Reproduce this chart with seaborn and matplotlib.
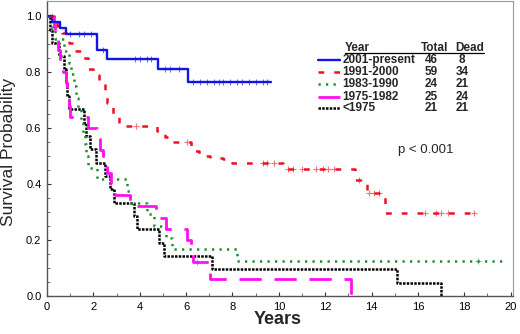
import numpy as np
import pandas as pd
import matplotlib
matplotlib.use("Agg")
import matplotlib.pyplot as plt
import seaborn as sns

# ---------------- data ----------------
groups = ["2001-present", "1991-2000", "1983-1990", "1975-1982", "<1975"]
totals = [46, 59, 24, 25, 21]
deaths = [8, 34, 21, 24, 21]

t_2001 = [0, 0.2, 0.55, 0.8, 2.16, 2.6, 4.78, 6.1, 9.65]
s_2001 = [1.0, 0.978, 0.957, 0.935, 0.879, 0.846, 0.81, 0.764, 0.764]
c_2001 = [1.0, 1.4, 1.6, 1.9, 2.4, 3.8, 4.0, 4.3, 4.5, 5.1, 5.3, 5.7,
          6.3, 6.6, 6.9, 7.2, 7.4, 7.6, 7.9, 8.2, 8.4, 8.7, 9.0, 9.3, 9.5]

t_1991 = [0, 0.25, 0.45, 0.65, 0.95, 1.25, 1.5, 1.78, 2.0, 2.25, 2.5, 2.6,
          2.85, 3.1, 4.73, 5.1, 5.45, 6.2, 6.55, 7.05, 7.6, 8.0, 10.2, 13.3,
          13.6, 13.8, 14.6, 18.5]
s_1991 = [1.0, 0.983, 0.966, 0.94, 0.905, 0.875, 0.85, 0.81, 0.79, 0.765,
          0.736, 0.69, 0.64, 0.607, 0.59, 0.569, 0.551, 0.519, 0.50, 0.494,
          0.489, 0.476, 0.452, 0.414, 0.405, 0.367, 0.295, 0.295]
c_1991 = [0.2, 3.85, 6.05, 9.3, 9.5, 9.8, 10.4, 10.6, 11.0, 11.6, 11.9, 12.1,
          12.4, 13.45, 13.9, 14.1, 14.3, 16.3, 16.8, 17.0, 17.3, 18.4]

t_1983 = [0, 0.2, 0.35, 0.75, 0.95, 1.05, 1.15, 1.25, 1.35, 1.45, 1.55, 1.62,
          1.68, 1.75, 2.15, 3.45, 3.6, 4.3, 4.6, 5.15, 5.4, 8.2, 19.8]
s_1983 = [1.0, 0.958, 0.917, 0.875, 0.833, 0.792, 0.75, 0.708, 0.667, 0.625,
          0.583, 0.542, 0.5, 0.458, 0.417, 0.375, 0.333, 0.292, 0.25, 0.208,
          0.167, 0.125, 0.125]
c_1983 = [18.6]

t_1975 = [0, 0.3, 0.35, 0.48, 0.56, 0.7, 0.8, 0.88, 0.95, 1.0, 1.75, 2.15,
          2.3, 2.42, 2.6, 2.78, 2.92, 3.6, 4.7, 5.15, 6.05, 6.2, 6.3, 7.03,
          13.1]
s_1975 = [1.0, 0.96, 0.92, 0.88, 0.84, 0.80, 0.76, 0.72, 0.68, 0.64, 0.60,
          0.56, 0.52, 0.48, 0.44, 0.40, 0.36, 0.32, 0.28, 0.24, 0.20, 0.16,
          0.12, 0.06, 0.0]
c_1975 = [6.45]

t_pre = [0, 0.12, 0.2, 0.5, 0.75, 0.82, 0.88, 0.95, 1.6, 1.7, 1.85, 2.1,
         2.5, 2.7, 2.9, 3.75, 3.9, 4.85, 5.05, 7.1, 15.1, 17.0]
s_pre = [1.0, 0.952, 0.905, 0.857, 0.810, 0.762, 0.714, 0.667, 0.619, 0.571,
         0.524, 0.476, 0.429, 0.381, 0.333, 0.286, 0.238, 0.190, 0.143, 0.095,
         0.048, 0.0]
c_pre = []

series = [
    (t_2001, s_2001, c_2001),
    (t_1991, s_1991, c_1991),
    (t_1983, s_1983, c_1983),
    (t_1975, s_1975, c_1975),
    (t_pre, s_pre, c_pre),
]

x_ticks = list(range(0, 21, 2))
y_ticks = [0.0, 0.2, 0.4, 0.6, 0.8, 1.0]

# ---------------- styles ----------------
colors = ["#1414E6", "#EE1122", "#1E8C2A", "#FF10F0", "#000000"]
styles = ["-", (0, (2.3, 4.0)), (0, (0.9, 2.1)), (0, (8, 4.6)), (0, (1, 0.5))]
widths = [1.7, 1.8, 1.8, 2.0, 1.8]

sns.set_theme(style="white")
plt.rcParams["font.family"] = ["Liberation Sans", "DejaVu Sans"]

fig = plt.figure(figsize=(5.2, 3.34), dpi=100)
L, R, B, T = 47, 513, 296, 1
W, H = 520, 334
ax = fig.add_axes([L / W, (H - B) / H, (R - L) / W, (B - T) / H])

def step_val(ts, ss, c):
    idx = np.searchsorted(np.asarray(ts), c, side="right") - 1
    return np.asarray(ss)[idx]

# draw in reverse order so the blue sits on top
for i in [4, 2, 3, 1, 0]:
    ts, ss, cs = series[i]
    df = pd.DataFrame({"t": ts, "s": ss})
    sns.lineplot(data=df, x="t", y="s", ax=ax, drawstyle="steps-post",
                 color=colors[i], linestyle=styles[i], lw=widths[i],
                 estimator=None, sort=False, legend=False)
    if cs:
        cdf = pd.DataFrame({"t": cs, "s": [step_val(ts, ss, c) for c in cs]})
        sns.scatterplot(data=cdf, x="t", y="s", ax=ax, marker="+", s=22,
                        color=colors[i], linewidth=0.8, legend=False,
                        zorder=5, alpha=0.6)

ax.set_xlim(0, 20.1)
ax.set_ylim(0, 1.054)
ax.set_xticks(x_ticks)
ax.set_yticks(y_ticks)
ax.set_xticklabels([str(v) for v in x_ticks])
ax.set_yticklabels([f"{v:.1f}" for v in y_ticks])
ax.set_xticks(np.arange(0, 20.1, 1), minor=True)
ax.set_yticks(np.arange(0, 1.05, 0.05), minor=True)
ax.tick_params(axis="both", which="major", direction="in", length=3,
               width=0.8, labelsize=8, colors="#333333", pad=4)
ax.tick_params(axis="both", which="minor", direction="in", length=2,
               width=0.6, colors="#555555")
ax.tick_params(axis="x", which="both", bottom=True)
ax.tick_params(axis="y", which="both", left=True)
for lab in ax.get_xticklabels() + ax.get_yticklabels():
    lab.set_color("black")

for side in ["left", "bottom"]:
    ax.spines[side].set_color("#555555")
    ax.spines[side].set_linewidth(1.0)
for side in ["top", "right"]:
    ax.spines[side].set_color("#999999")
    ax.spines[side].set_linewidth(0.8)

ax.set_xlabel("")
ax.set_ylabel("")
fig.text(278 / W, 1 - 319 / H, "Years", fontsize=13, fontweight="bold",
         ha="center", va="center")
fig.text(9 / W, 1 - 152 / H, "Survival Probability", fontsize=12.5,
         rotation=90, ha="center", va="center")

# ---------------- legend table ----------------
def ax_pt(x, y):
    return ((x - L) / (R - L), (B - y) / (B - T))

fs = 8.5
x0, y0 = ax_pt(345, 48)
ax.text(x0, y0, "Year", transform=ax.transAxes, fontsize=fs,
        fontweight="bold", va="center", ha="left")
x1, _ = ax_pt(420.5, 48)
ax.text(x1, y0, "Total", transform=ax.transAxes, fontsize=fs,
        fontweight="bold", va="center", ha="left")
x2, _ = ax_pt(455, 48)
ax.text(x2, y0, "Dead", transform=ax.transAxes, fontsize=fs,
        fontweight="bold", va="center", ha="left")
ua, uy = ax_pt(345, 53)
ub, _ = ax_pt(484, 53)
ax.plot([ua, ub], [uy, uy], transform=ax.transAxes, color="black", lw=0.9,
        clip_on=False)

row_y = [60, 71.7, 84, 96.5, 108.3]
for i, g in enumerate(groups):
    la, ry = ax_pt(318, row_y[i])
    lb, _ = ax_pt(340, row_y[i])
    ax.plot([la, lb], [ry, ry], transform=ax.transAxes, color=colors[i],
            linestyle=styles[i], lw=widths[i])
    tx, _ = ax_pt(342.5, row_y[i])
    ax.text(tx, ry, g, transform=ax.transAxes, fontsize=fs,
            fontweight="bold", va="center", ha="left")
    cx, _ = ax_pt(431, row_y[i])
    ax.text(cx, ry, str(totals[i]), transform=ax.transAxes, fontsize=fs,
            fontweight="bold", va="center", ha="center")
    dx, _ = ax_pt(462, row_y[i])
    ax.text(dx, ry, str(deaths[i]), transform=ax.transAxes, fontsize=fs,
            fontweight="bold", va="center", ha="center")

px, py = ax_pt(398, 150)
ax.text(px, py, "p < 0.001", transform=ax.transAxes, fontsize=9.5,
        va="center", ha="left")

fig.savefig("out.png", dpi=100)
